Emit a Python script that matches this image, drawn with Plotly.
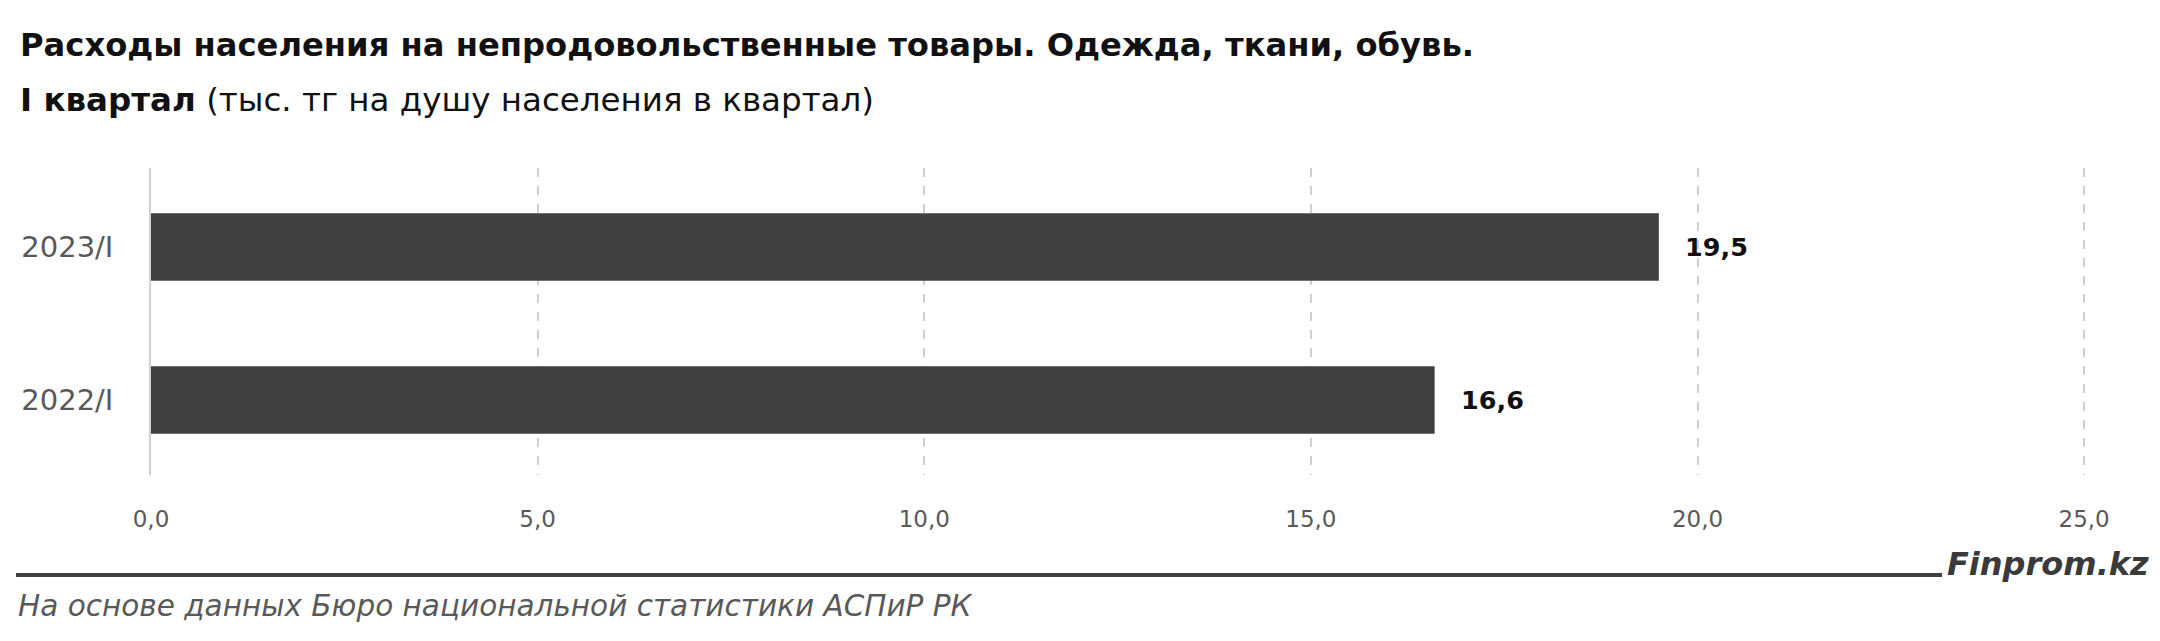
import plotly.graph_objects as go

categories = ["2022/I", "2023/I"]
values = [16.6, 19.5]
value_labels = ["16,6", "19,5"]
x_tickvals = [0, 5, 10, 15, 20, 25]
x_ticktext = ["0,0", "5,0", "10,0", "15,0", "20,0", "25,0"]

title_line1 = "Расходы населения на непродовольственные товары. Одежда, ткани, обувь."
title_line2_bold = "I квартал"
title_line2_rest = " (тыс. тг на душу населения в квартал)"
source_text = "На основе данных Бюро национальной статистики АСПиР РК"
brand_text = "Finprom.kz"

W, H = 2160, 641
L, R, T, B = 151, 72, 168, 166
pw = W - L - R
ph = H - T - B


def px(x):
    return (x - L) / pw


def py(y):
    return (H - B - y) / ph


FONT = "DejaVu Sans"

fig = go.Figure()
fig.add_trace(go.Bar(
    y=categories,
    x=values,
    orientation="h",
    marker=dict(color="#404040", line=dict(width=0)),
    hoverinfo="skip",
))

for cat, val, lab in zip(categories, values, value_labels):
    fig.add_annotation(
        x=val, y=cat, xref="x", yref="y",
        text="<b>" + lab + "</b>", showarrow=False,
        xanchor="left", yanchor="middle", xshift=24,
        font=dict(family=FONT, size=25.5, color="#111111"),
    )

fig.update_layout(
    width=W, height=H,
    margin=dict(l=L, r=R, t=T, b=B, pad=0),
    paper_bgcolor="white", plot_bgcolor="white",
    bargap=0.56,
    showlegend=False,
    font=dict(family=FONT),
)
fig.update_xaxes(
    range=[0, 25.05],
    tickvals=x_tickvals, ticktext=x_ticktext,
    tickfont=dict(family=FONT, size=23, color="#595959"),
    showgrid=True, gridcolor="#d0d0d0", griddash="dash", gridwidth=1.5,
    zeroline=False, showline=False,
    ticks="", ticklabelstandoff=28,
)
fig.update_yaxes(
    type="category",
    categoryorder="array", categoryarray=categories,
    range=[-0.49, 1.516],
    tickfont=dict(family=FONT, size=29, color="#595959"),
    showgrid=False, zeroline=False,
    showline=True, linecolor="#d0d0d0", linewidth=1.5,
    ticks="", ticklabelstandoff=30,
)

fig.add_annotation(
    xref="paper", yref="paper", x=px(18), y=py(45),
    xanchor="left", yanchor="middle", showarrow=False,
    text="<b>" + title_line1 + "</b>",
    font=dict(family=FONT, size=32.2, color="#111111"),
)
fig.add_annotation(
    xref="paper", yref="paper", x=px(18), y=py(100),
    xanchor="left", yanchor="middle", showarrow=False,
    text="<b>" + title_line2_bold + "</b>" + title_line2_rest,
    font=dict(family=FONT, size=32.5, color="#111111"),
)
fig.add_shape(
    type="line", xref="paper", yref="paper",
    x0=px(16), x1=px(1942), y0=py(575), y1=py(575),
    line=dict(color="#404040", width=4),
)
fig.add_annotation(
    xref="paper", yref="paper", x=px(1945), y=py(564),
    xanchor="left", yanchor="middle", showarrow=False,
    text="<b><i>" + brand_text + "</i></b>",
    font=dict(family=FONT, size=32, color="#3a3a3a"),
)
fig.add_annotation(
    xref="paper", yref="paper", x=px(16), y=py(606),
    xanchor="left", yanchor="middle", showarrow=False,
    text="<i>" + source_text + "</i>",
    font=dict(family=FONT, size=29.5, color="#595959"),
)

fig.write_html("out.html")
